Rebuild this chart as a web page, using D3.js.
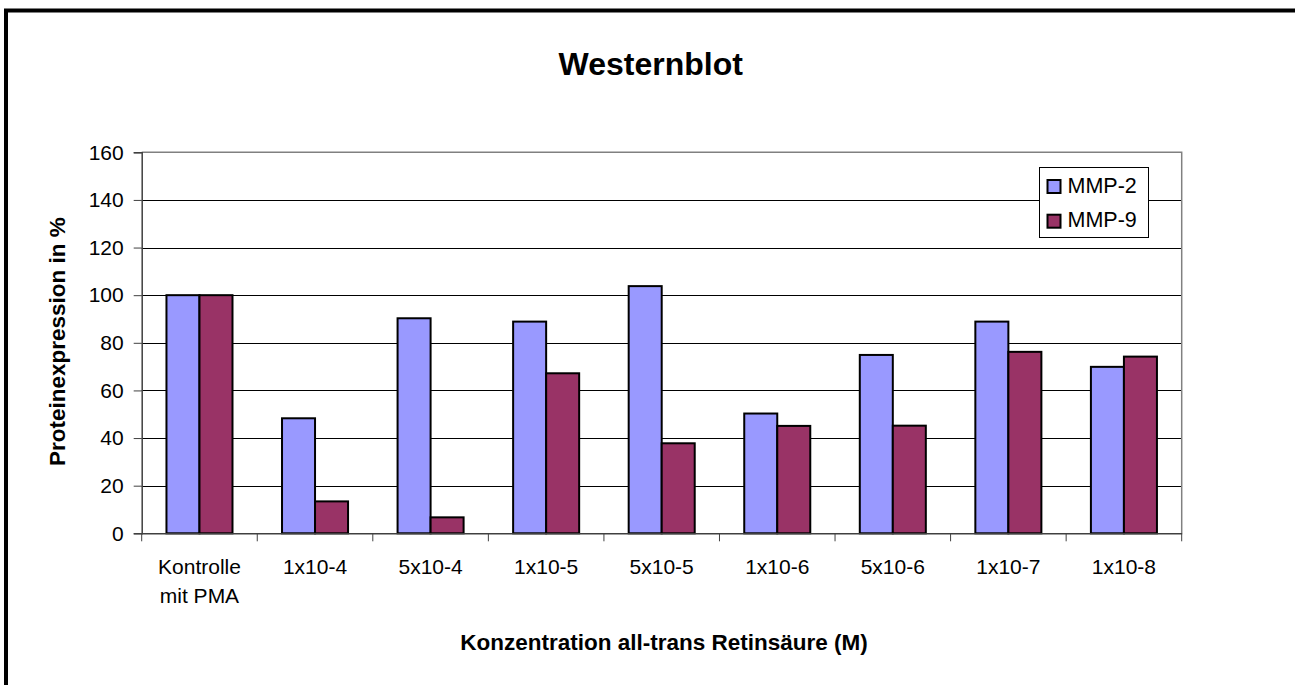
<!DOCTYPE html>
<html>
<head>
<meta charset="utf-8">
<script src="https://cdn.jsdelivr.net/npm/d3@7"></script>
<style>
  html, body { margin: 0; padding: 0; background: #fff; }
  svg { display: block; font-family: "Liberation Sans", Arial, sans-serif; }
</style>
</head>
<body>
<svg id="chart" width="1295" height="685"></svg>
<script>
const categories = [["Kontrolle", "mit PMA"], ["1x10-4"], ["5x10-4"], ["1x10-5"], ["5x10-5"], ["1x10-6"], ["5x10-6"], ["1x10-7"], ["1x10-8"]];
const seriesNames = ["MMP-2", "MMP-9"];
const mmp2 = [100, 48.3, 90.3, 88.9, 103.8, 50.3, 74.9, 88.9, 69.9];
const mmp9 = [100, 13.4, 6.7, 67.2, 37.8, 45.1, 45.2, 76.2, 74.2];
const yTicks = [0, 20, 40, 60, 80, 100, 120, 140, 160];
const colors = ["#9999FF", "#993366"];
const title = "Westernblot";
const yTitle = "Proteinexpression in %";
const xTitle = "Konzentration all-trans Retinsäure (M)";

const svg = d3.select("#chart");
const L = 141.7, R = 1181.7, T = 152.3, B = 533.3;

// outer frame
svg.append("rect").attr("x", 6).attr("y", 10.5).attr("width", 1400).attr("height", 800)
  .attr("fill", "none").attr("stroke", "#000").attr("stroke-width", 4);

const keys = categories.map((c, i) => i);
const x0 = d3.scaleBand().domain(keys).range([L, R]).padding(0);
const x1 = d3.scaleBand().domain(seriesNames).range([0, x0.bandwidth()]).paddingInner(0).paddingOuter(0.75);
const y = d3.scaleLinear().domain([0, 160]).range([B, T]);

// gridlines
svg.append("g").selectAll("line").data(yTicks.filter(d => d > 0 && d < 160)).join("line")
  .attr("x1", L).attr("x2", R).attr("y1", d => Math.round(y(d)) + 0.5).attr("y2", d => Math.round(y(d)) + 0.5)
  .attr("stroke", "#000").attr("stroke-width", 1);

// plot border top/right
svg.append("path").attr("d", `M${L},${T}H${R}V${B}`).attr("fill", "none")
  .attr("stroke", "#808080").attr("stroke-width", 1.5);

// bars
const data = seriesNames.map((s, si) => ({ name: s, values: si === 0 ? mmp2 : mmp9 }));
data.forEach((s, si) => {
  svg.append("g").selectAll("rect").data(s.values).join("rect")
    .attr("x", (d, i) => x0(i) + x1(s.name))
    .attr("y", d => y(d))
    .attr("width", x1.bandwidth())
    .attr("height", d => B - y(d))
    .attr("fill", colors[si])
    .attr("stroke", "#000").attr("stroke-width", 2);
});

// y axis
const yAxis = d3.axisLeft(y).tickValues(yTicks).tickSize(8).tickPadding(10);
const gy = svg.append("g").attr("transform", `translate(${L},0)`).call(yAxis);
gy.select(".domain").attr("stroke", "#404040").attr("stroke-width", 1.5);
gy.selectAll(".tick line").attr("stroke", "#404040");
gy.selectAll(".tick text").attr("font-size", 21).attr("fill", "#000")
  .attr("font-family", "'Liberation Sans', Arial, sans-serif").attr("x", -18);

// x axis
const xAxis = d3.axisBottom(x0).tickValues([]).tickSizeOuter(0);
const gx = svg.append("g").attr("transform", `translate(0,${B})`).call(xAxis);
gx.select(".domain").attr("stroke", "#404040").attr("stroke-width", 1.5);
const boundaries = keys.map(k => x0(k)).concat([R]);
svg.append("g").selectAll("line").data(boundaries).join("line")
  .attr("x1", d => d).attr("x2", d => d).attr("y1", B).attr("y2", B + 8)
  .attr("stroke", "#404040").attr("stroke-width", 1);

// x tick labels
const xl = svg.append("g");
categories.forEach((c, i) => {
  c.forEach((line, li) => {
    xl.append("text").attr("x", x0(i) + x0.bandwidth() / 2).attr("y", 574.3 + li * 29)
      .attr("text-anchor", "middle").attr("font-size", 21).attr("fill", "#000").text(line);
  });
});

// title
svg.append("text").attr("x", (L + R) / 2 - 11).attr("y", 75).attr("text-anchor", "middle")
  .attr("font-size", 32).attr("font-weight", "bold").text(title);

// axis titles
svg.append("text").attr("transform", `translate(65,341.7) rotate(-90)`).attr("text-anchor", "middle")
  .attr("font-size", 22.5).attr("font-weight", "bold").text(yTitle);
svg.append("text").attr("x", 664).attr("y", 650).attr("text-anchor", "middle")
  .attr("font-size", 22.5).attr("font-weight", "bold").text(xTitle);

// legend
const lg = svg.append("g");
lg.append("rect").attr("x", 1039.5).attr("y", 167.5).attr("width", 109).attr("height", 70)
  .attr("fill", "#fff").attr("stroke", "#000").attr("stroke-width", 1);
seriesNames.forEach((s, i) => {
  lg.append("rect").attr("x", 1047.5).attr("y", 180 + i * 34.7).attr("width", 13).attr("height", 13)
    .attr("fill", colors[i]).attr("stroke", "#000").attr("stroke-width", 2);
  lg.append("text").attr("x", 1067.5).attr("y", 192.7 + i * 34.6).attr("font-size", 21.5).attr("fill", "#000").text(s);
});
</script>
</body>
</html>
